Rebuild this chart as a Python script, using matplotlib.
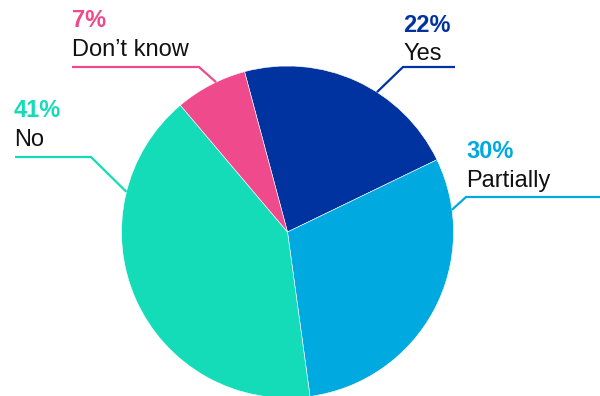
import numpy as np
import matplotlib
matplotlib.use("Agg")
import matplotlib.pyplot as plt

plt.rcParams['font.family'] = ['Liberation Sans', 'DejaVu Sans']

# Survey answers, listed clockwise from the top
categories = ["Yes", "Partially", "No", "Don\u2019t know"]
shares = [22, 30, 41, 7]
colors = ["#0033a0", "#00a9df", "#14dcb8", "#ee4a8c"]

W, H = 600, 396
fig = plt.figure(figsize=(W / 100, H / 100), dpi=100)
ax = fig.add_axes([0, 0, 1, 1])
ax.set_xlim(0, W)
ax.set_ylim(0, H)
ax.axis("off")


def Y(p):
    """Convert a top-down pixel row into the axis' bottom-up coordinate."""
    return H - p


cx, cy, r = 287.5, Y(232), 166
ax.pie(shares, colors=colors, startangle=105, counterclock=False,
       center=(cx, cy), radius=r, frame=True,
       wedgeprops=dict(linewidth=0.4, edgecolor="white"))
ax.set_xlim(0, W)
ax.set_ylim(0, H)
ax.set_aspect("equal")
ax.axis("off")

# Callouts: angle (clockwise from top) where the leader leaves the pie,
# elbow point, end of the horizontal rule, and text anchor.
callouts = {
    "Yes":          dict(ang=32.6,  elbow=(403, 67),  end=455, tx=403, base=32),
    "Partially":    dict(ang=82.3,  elbow=(466, 197), end=600, tx=466, base=158),
    "No":           dict(ang=-76.0, elbow=(91, 157),  end=15,  tx=14,  base=117),
    "Don\u2019t know": dict(ang=-25.5, elbow=(199, 67),  end=72,  tx=72,  base=27),
}

for cat, val, col in zip(categories, shares, colors):
    c = callouts[cat]
    a = np.deg2rad(c["ang"])
    sx, sy = cx + r * np.sin(a), cy + r * np.cos(a)
    ex, ey = c["elbow"]
    ax.plot([sx, ex, c["end"]], [sy, Y(ey), Y(ey)], color=col, lw=1.6,
            solid_capstyle="butt", solid_joinstyle="miter")
    ax.text(c["tx"], Y(c["base"]), f"{val}%", color=col, fontsize=17,
            fontweight="bold", ha="left", va="baseline")
    ax.text(c["tx"], Y(c["base"] + 28.5), cat, color="#111111", fontsize=17,
            ha="left", va="baseline")

fig.savefig("out.png", dpi=100)
